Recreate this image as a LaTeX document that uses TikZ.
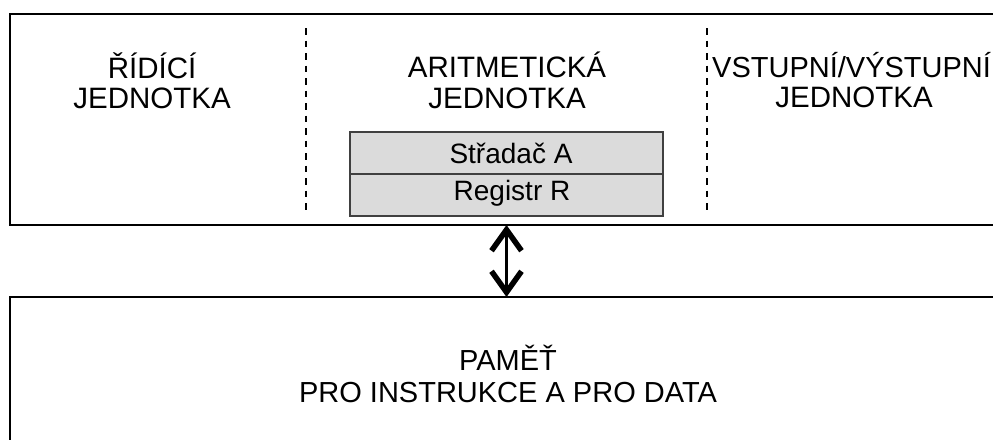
\documentclass[tikz,border=0pt]{standalone}
\usepackage{fontspec}
\setmainfont{Liberation Sans}
\usetikzlibrary{arrows.meta}
\begin{document}
\begin{tikzpicture}[x=1pt,y=-1pt,
  frame/.style={draw=black, line width=2.2pt, inner sep=0pt, outer sep=0pt, anchor=north west},
  sep/.style={line width=2.2pt, dash pattern=on 6.5pt off 6pt},
  title/.style={font=\fontsize{29.5}{31}\selectfont, anchor=base, inner sep=0pt},
  reg/.style={draw=black!75, line width=1.6pt, fill=black!14, minimum width=313pt,
              minimum height=42pt, inner sep=0pt, outer sep=0pt, anchor=north west},
  regtext/.style={font=\fontsize{28}{30}\selectfont, anchor=base, inner sep=0pt},
  tip/.tip={Straight Barb[length=21pt,width=30pt,line width=5.5pt]},
  bus/.style={line width=3.5pt, tip-tip}
]
\useasboundingbox (0,0) rectangle (993,439);
\begin{scope}
  \clip (0,0) rectangle (993,439);
  % processor and memory frames (run past the right and bottom edges)
  \node[frame, minimum width=1020pt, minimum height=211pt] (cpu) at (10,14) {};
  \node[frame, minimum width=1020pt, minimum height=180pt] (mem) at (10,297) {};

  % unit separators
  \coordinate (s1t) at (306,28);  \coordinate (s1b) at (306,215);
  \coordinate (s2t) at (707,28);  \coordinate (s2b) at (707,215);
  \draw[sep] (s1t) -- (s1b);
  \draw[sep] (s2t) -- (s2b);

  % unit titles
  \node[title] (ctl1) at (152,78) {ŘÍDÍCÍ};
  \node[title] (ctl2) at (152,108) {JEDNOTKA};
  \node[title] (alu1) at (507,77) {ARITMETICKÁ};
  \node[title] (alu2) at (507,108) {JEDNOTKA};
  \node[title, font=\fontsize{29}{31}\selectfont, anchor=base west] (io1) at (712,77) {VSTUPNÍ/VÝSTUPNÍ};
  \node[title] (io2) at (854,107) {JEDNOTKA};

  % registers of the arithmetic unit
  \node[reg] (accA) at (350,132) {};
  \node[reg] (regR) at (350,174) {};
  \node[regtext] (accAt) at (511,163) {Střadač A};
  \node[regtext] (regRt) at (512,200.5) {Registr R};

  % memory label
  \node[title, font=\fontsize{29}{31}\selectfont] (mem1) at (508,370) {PAMĚŤ};
  \node[title, font=\fontsize{29}{31}\selectfont] (mem2) at (508,402) {PRO INSTRUKCE A PRO DATA};

  % data path between processor and memory
  \draw[bus] (cpu.south -| regR.south) -- (mem.north -| regR.south);
\end{scope}
\end{tikzpicture}
\end{document}
